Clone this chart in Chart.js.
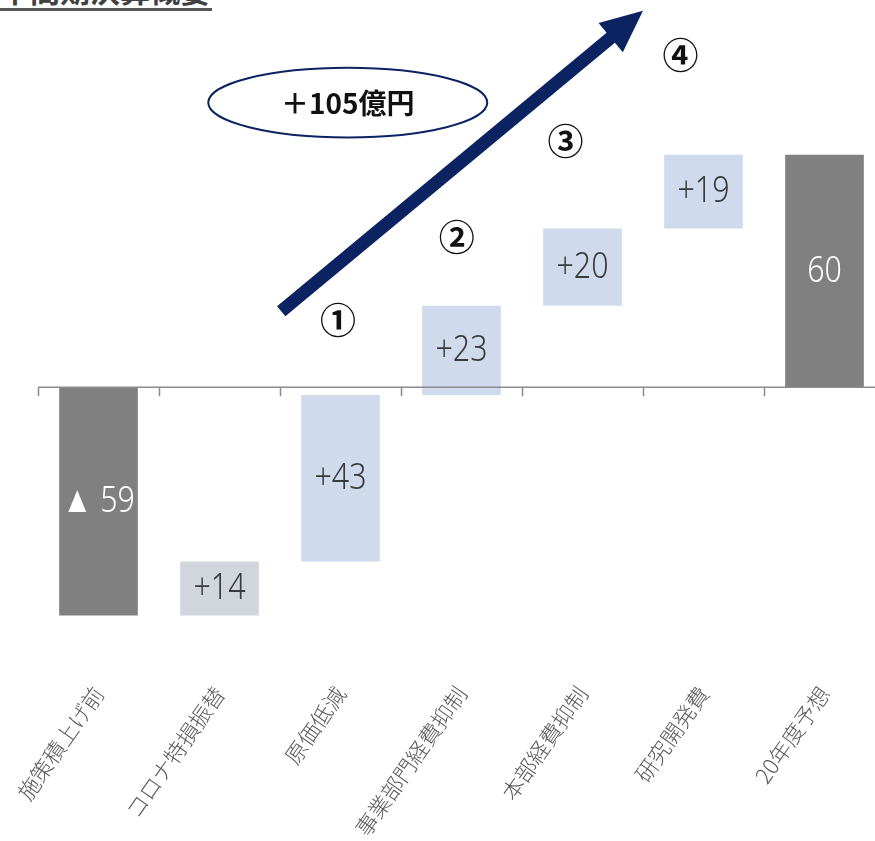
<!DOCTYPE html>
<html lang="ja">
<head>
<meta charset="utf-8">
<title>施策効果</title>
<script src="https://cdn.jsdelivr.net/npm/chart.js@4.4.1/dist/chart.umd.min.js"></script>
<style>
    html, body { margin: 0; padding: 0; background: #fff; overflow: hidden; }
    .page-title {
        position: absolute; left: 0; top: -30px;
        font: bold 30px 'Noto Sans CJK JP', sans-serif; color: #404040;
        border-bottom: 3px solid #555; line-height: 38px; padding-right: 2px;
    }
    .chart-box { position: absolute; left: 0; top: 0; width: 890px; height: 841px; }
</style>
</head>
<body>
<div class="page-title">中間期決算概要</div>
<div class="chart-box"><canvas id="waterfall"></canvas></div>
<script>
// categories and step values (億円)
const categories = ['施策積上げ前', 'コロナ特損振替', '原価低減', '事業部門経費抑制', '本部経費抑制', '研究開発費', '20年度予想'];
const deltas = [-59, 14, 43, 23, 20, 19, 60];
const isTotal = [true, false, false, false, false, false, true];
const barLabels = ['▲ 59', '+14', '+43', '+23', '+20', '+19', '60'];
const barColors = ['#808080', '#d1d5dc', '#cfdaec', '#cfdaec', '#cfdaec', '#cfdaec', '#808080'];
const labelColors = ['#ffffff', '#3a3a3a', '#3a3a3a', '#3a3a3a', '#3a3a3a', '#3a3a3a', '#ffffff'];

// floating ranges for the waterfall
const ranges = [];
let running = 0;
deltas.forEach((d, i) => {
    if (isTotal[i] && i > 0) {
        ranges.push([0, d]);
        running = d;
    } else {
        ranges.push([running, running + d]);
        running += d;
    }
});

// annotation anchors, in scale units (x = category index, y = 億円)
const NAVY = '#0b2361';
const arrow = { from: [1.51, 19.6], to: [4.5, 97.2] };
const bubble = { at: [2.06, 73.5], rx: 1.153, ry: 9.0, text: '＋105億円' };
const steps = [
    { at: [1.98, 17.3], text: '①' },
    { at: [2.96, 38.7], text: '②' },
    { at: [3.86, 63.4], text: '③' },
    { at: [4.81, 85.6], text: '④' }
];

const waterfallDecor = {
    id: 'waterfallDecor',
    afterDatasetsDraw(chart) {
        const { ctx, chartArea, scales: { x, y } } = chart;
        const y0 = y.getPixelForValue(0);
        const step = (chartArea.right - chartArea.left) / categories.length;

        ctx.save();
        // zero axis with boundary ticks
        ctx.strokeStyle = '#8c8c8c';
        ctx.lineWidth = 1.5;
        ctx.beginPath();
        ctx.moveTo(chartArea.left, y0);
        ctx.lineTo(chartArea.right, y0);
        for (let i = 0; i <= categories.length; i++) {
            const px = Math.round(chartArea.left + i * step) + 0.5;
            ctx.moveTo(px, y0);
            ctx.lineTo(px, y0 + 9);
        }
        ctx.stroke();

        // values inside the bars (narrowed to look like the condensed face)
        const meta = chart.getDatasetMeta(0);
        ctx.font = '300 37px "Noto Sans", sans-serif';
        ctx.textAlign = 'center';
        ctx.textBaseline = 'middle';
        meta.data.forEach((bar, i) => {
            ctx.save();
            ctx.translate(bar.x, (bar.y + bar.base) / 2);
            ctx.scale(0.82, 1);
            ctx.fillStyle = labelColors[i];
            ctx.fillText(barLabels[i], 0, 0);
            ctx.restore();
        });

        // arrow
        const sx = x.getPixelForValue(arrow.from[0]), sy = y.getPixelForValue(arrow.from[1]);
        const tx = x.getPixelForValue(arrow.to[0]), ty = y.getPixelForValue(arrow.to[1]);
        const ang = Math.atan2(ty - sy, tx - sx);
        const headLen = 42, headHalf = 19;
        const bx = tx - headLen * Math.cos(ang), by = ty - headLen * Math.sin(ang);
        ctx.strokeStyle = NAVY;
        ctx.fillStyle = NAVY;
        ctx.lineWidth = 13;
        ctx.lineCap = 'butt';
        ctx.beginPath();
        ctx.moveTo(sx, sy);
        ctx.lineTo(bx + 2 * Math.cos(ang), by + 2 * Math.sin(ang));
        ctx.stroke();
        ctx.beginPath();
        ctx.moveTo(tx, ty);
        ctx.lineTo(bx + headHalf * Math.sin(ang), by - headHalf * Math.cos(ang));
        ctx.lineTo(bx - headHalf * Math.sin(ang), by + headHalf * Math.cos(ang));
        ctx.closePath();
        ctx.fill();

        // ellipse callout
        const cx = x.getPixelForValue(bubble.at[0]), cy = y.getPixelForValue(bubble.at[1]);
        const rx = bubble.rx * step, ry = Math.abs(y.getPixelForValue(bubble.ry) - y0);
        ctx.fillStyle = '#ffffff';
        ctx.lineWidth = 2;
        ctx.beginPath();
        ctx.ellipse(cx, cy, rx, ry, 0, 0, Math.PI * 2);
        ctx.fill();
        ctx.stroke();
        ctx.fillStyle = '#111';
        ctx.font = 'bold 28px "Noto Sans CJK JP", sans-serif';
        ctx.fillText(bubble.text, cx, cy + 1);

        // step markers
        ctx.font = 'bold 36px "Noto Sans CJK JP", sans-serif';
        steps.forEach(s => {
            ctx.fillText(s.text, x.getPixelForValue(s.at[0]), y.getPixelForValue(s.at[1]));
        });
        ctx.restore();
    }
};

new Chart(document.getElementById('waterfall'), {
    type: 'bar',
    data: {
        labels: categories,
        datasets: [{
            data: ranges,
            backgroundColor: barColors,
            borderWidth: 0,
            categoryPercentage: 1,
            barPercentage: 0.65
        }]
    },
    options: {
        responsive: true,
        maintainAspectRatio: false,
        animation: false,
        layout: { padding: { top: 0, left: 38, right: 5, bottom: 0 } },
        plugins: {
            legend: { display: false },
            tooltip: { enabled: false }
        },
        scales: {
            y: { display: false, min: -74, max: 100 },
            x: {
                grid: { display: false },
                border: { display: false },
                ticks: {
                    color: '#595959',
                    font: { family: '"Noto Sans CJK JP", sans-serif', size: 22, weight: '300' },
                    minRotation: 55,
                    maxRotation: 55,
                    padding: 0,
                    autoSkip: false
                }
            }
        }
    },
    plugins: [waterfallDecor]
});
</script>
</body>
</html>
